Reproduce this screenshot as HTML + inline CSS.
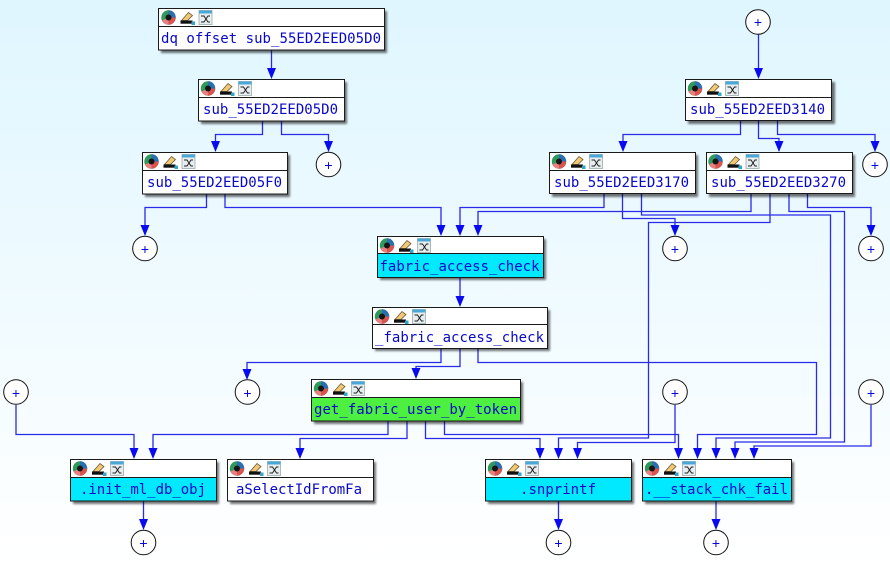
<!DOCTYPE html>
<html><head><meta charset="utf-8"><style>
html,body{margin:0;padding:0;width:890px;height:567px;overflow:hidden}
svg{display:block}
.t{font-family:"DejaVu Sans Mono","Liberation Mono",monospace;font-size:14px;fill:#0808c8}
.p{font-family:"Liberation Sans",sans-serif;font-size:14px;fill:#0000e0;text-anchor:middle}
</style></head><body>
<svg width="890" height="567" viewBox="0 0 890 567" xmlns="http://www.w3.org/2000/svg">
<defs>
<linearGradient id="bg" x1="0" y1="0" x2="0" y2="1"><stop offset="0" stop-color="#dff6ff"/><stop offset="1" stop-color="#ffffff"/></linearGradient>
<filter id="sh" x="-10%" y="-20%" width="125%" height="145%"><feGaussianBlur stdDeviation="1.1"/></filter>
<g id="ic">
<circle cx="9" cy="9" r="7.200" fill="#2f9a5c"/>
<path d="M9 9L9 1.800A7.200 7.200 0 0 1 16.200 9Z" fill="#2b6fb0"/>
<path d="M9 9L16.200 9A7.200 7.200 0 0 1 9 16.200Z" fill="#d9534f"/>
<path d="M9 9L9 16.200A7.200 7.200 0 0 1 2.500 12Z" fill="#e88080"/>
<circle cx="9" cy="9" r="3" fill="#151515"/>
<path d="M22 12L29 4L33 7L28 12Z" fill="#f0c878" stroke="#6a5a30" stroke-width=".8"/>
<rect x="21" y="12" width="12" height="3.200" fill="#111"/>
<rect x="32" y="13" width="3.500" height="3.500" fill="#35a5c5"/>
<rect x="39.500" y="2" width="13" height="14" fill="#e8eef0" stroke="#9aa" stroke-width=".8"/>
<rect x="39.500" y="2" width="13" height="3" fill="#4aa8d8"/>
<path d="M41.500 7.500h3l4 6h2M41.500 13.500h3l4-6h2" fill="none" stroke="#222" stroke-width="1"/>
</g>
<path id="a" d="M-4.500 -11L4.500 -11L0 0Z" fill="#0a0af0"/>
</defs>
<rect width="890" height="567" fill="url(#bg)"/>

<g fill="none" stroke="#2a2aea" stroke-width="1.300">
<path d="M271.500 50V72"/>
<path d="M262.500 121V134.500H215.500V145"/>
<path d="M281.500 121V134.500H328.500V145"/>
<path d="M758.500 34V72"/>
<path d="M740.500 120V134.500H623V145"/>
<path d="M758.500 120V138.500H779V145"/>
<path d="M777.500 120V134.500H875V145"/>
<path d="M206.500 194V207.500H145V229"/>
<path d="M225 194V207.500H441V229"/>
<path d="M604 193V207.500H460V229"/>
<path d="M751 193V211.500H478V229"/>
<path d="M622.500 193V218.500H675V229"/>
<path d="M641.500 193V215H830.500V438H716V452"/>
<path d="M770 193V222.500H648.500V438H558.500V452"/>
<path d="M789 193V211.500H844.500V442H735V452"/>
<path d="M807.500 193V207.500H871V229"/>
<path d="M460 277V300"/>
<path d="M441 348V362.500H247V372"/>
<path d="M460 348V366.500H416V372"/>
<path d="M478 348V362.500H816.500V434.500H697.500V452"/>
<path d="M388 421V434.500H153V452"/>
<path d="M407 421V438.500H300V452"/>
<path d="M425.500 421V438.500H540V452"/>
<path d="M444.500 421V434.500H678.500V452"/>
<path d="M16 405V434.500H134V452"/>
<path d="M675 405V442.500H577.500V452"/>
<path d="M871 405V446H754V452"/>
<path d="M143.500 501V523"/>
<path d="M558.500 501V523"/>
<path d="M716 501V523"/>
</g>

<g>
<use href="#a" x="271.500" y="79"/><use href="#a" x="215.500" y="152"/><use href="#a" x="328.500" y="152"/>
<use href="#a" x="758.500" y="79"/><use href="#a" x="623" y="152"/><use href="#a" x="779" y="152"/><use href="#a" x="875" y="152"/>
<use href="#a" x="145" y="236"/><use href="#a" x="441" y="236"/><use href="#a" x="460" y="236"/><use href="#a" x="478" y="236"/>
<use href="#a" x="675" y="236"/><use href="#a" x="871" y="236"/>
<use href="#a" x="460" y="307"/><use href="#a" x="247" y="380"/><use href="#a" x="416" y="379"/>
<use href="#a" x="134" y="459"/><use href="#a" x="153" y="459"/><use href="#a" x="300" y="459"/>
<use href="#a" x="540" y="459"/><use href="#a" x="558.500" y="459"/><use href="#a" x="577.500" y="459"/>
<use href="#a" x="678.500" y="459"/><use href="#a" x="697.500" y="459"/><use href="#a" x="716" y="459"/><use href="#a" x="735" y="459"/><use href="#a" x="754" y="459"/>
<use href="#a" x="143.500" y="530"/><use href="#a" x="558.500" y="530"/><use href="#a" x="716" y="530"/>
</g>

<g fill="#fff" stroke="#111" stroke-width="1">
<circle cx="758" cy="22" r="12.300"/><circle cx="875" cy="164.500" r="12.300"/><circle cx="328.500" cy="164.500" r="12.300"/>
<circle cx="145" cy="248.500" r="12.300"/><circle cx="675" cy="248.500" r="12.300"/><circle cx="871" cy="248.500" r="12.300"/>
<circle cx="247.500" cy="392" r="12.300"/><circle cx="16" cy="392" r="12.300"/><circle cx="675" cy="392" r="12.300"/><circle cx="871" cy="392" r="12.300"/>
<circle cx="143.500" cy="542.500" r="12.300"/><circle cx="558.500" cy="542.500" r="12.300"/><circle cx="716" cy="542.500" r="12.300"/>
</g>
<g class="pl">
<text class="p" x="758" y="27">+</text><text class="p" x="875" y="170">+</text><text class="p" x="328.500" y="170">+</text>
<text class="p" x="145" y="254">+</text><text class="p" x="675" y="254">+</text><text class="p" x="871" y="254">+</text>
<text class="p" x="247.500" y="398">+</text><text class="p" x="16" y="398">+</text><text class="p" x="675" y="398">+</text><text class="p" x="871" y="398">+</text>
<text class="p" x="143.500" y="548">+</text><text class="p" x="558.500" y="548">+</text><text class="p" x="716" y="548">+</text>
</g>

<!-- shadows -->
<g fill="#000" opacity=".55" filter="url(#sh)">
<rect x="161" y="11" width="226" height="42"/><rect x="201" y="82" width="146" height="42"/><rect x="145" y="155" width="145" height="42"/>
<rect x="688" y="82" width="147" height="42"/><rect x="552" y="155" width="146" height="42"/><rect x="709" y="155" width="146" height="42"/>
<rect x="380" y="239" width="166" height="41"/><rect x="375" y="310" width="175" height="41"/><rect x="314" y="382" width="209" height="42"/>
<rect x="73" y="462" width="146" height="42"/><rect x="230" y="462" width="146" height="42"/><rect x="488" y="462" width="146" height="42"/><rect x="645" y="462" width="149" height="42"/>
</g>

<!-- nodes -->
<g stroke="#1a1a1a" stroke-width="1">
<rect x="158.500" y="8.500" width="226" height="41.500" fill="#fff"/><path d="M158.500 26.500H384.500"/>
<rect x="198.500" y="79.500" width="146" height="41.500" fill="#fff"/><path d="M198.500 97.500H344.500"/>
<rect x="142.500" y="152.500" width="145" height="41.500" fill="#fff"/><path d="M142.500 170.500H287.500"/>
<rect x="685.500" y="79.500" width="146" height="41" fill="#fff"/><path d="M685.500 97.500H831.500"/>
<rect x="549.500" y="152.500" width="146" height="41" fill="#fff"/><path d="M549.500 170.500H695.500"/>
<rect x="706.500" y="152.500" width="146" height="41" fill="#fff"/><path d="M706.500 170.500H852.500"/>
<rect x="377.500" y="236.500" width="166" height="41" fill="#fff"/><rect x="377.500" y="253.500" width="166" height="24" fill="#00e9ff"/>
<rect x="372.500" y="307.500" width="175" height="41" fill="#fff"/><path d="M372.500 324.500H547.500"/>
<rect x="311.500" y="379.500" width="209" height="41.500" fill="#fff"/><rect x="311.500" y="397.500" width="209" height="23.500" fill="#4df040"/>
<rect x="70.500" y="459.500" width="146" height="41.500" fill="#fff"/><rect x="70.500" y="477.500" width="146" height="23.500" fill="#00e9ff"/>
<rect x="227.500" y="459.500" width="146" height="41.500" fill="#fff"/><path d="M227.500 477.500H373.500"/>
<rect x="485.500" y="459.500" width="146" height="41.500" fill="#fff"/><rect x="485.500" y="477.500" width="146" height="23.500" fill="#00e9ff"/>
<rect x="642.500" y="459.500" width="149" height="41.500" fill="#fff"/><rect x="642.500" y="477.500" width="149" height="23.500" fill="#00e9ff"/>
</g>

<use href="#ic" x="159.500" y="8.500"/><use href="#ic" x="199" y="79.500"/><use href="#ic" x="142.500" y="152.500"/>
<use href="#ic" x="686" y="79.500"/><use href="#ic" x="550" y="152.500"/><use href="#ic" x="706.500" y="152.500"/>
<use href="#ic" x="378" y="236.500"/><use href="#ic" x="373" y="307.500"/><use href="#ic" x="312" y="379.500"/>
<use href="#ic" x="71" y="459.500"/><use href="#ic" x="228" y="459.500"/><use href="#ic" x="486" y="459.500"/><use href="#ic" x="643" y="459.500"/>

<g class="tx">
<text class="t" x="161" y="43" textLength="220">dq offset sub_55ED2EED05D0</text>
<text class="t" x="203" y="114" textLength="135">sub_55ED2EED05D0</text>
<text class="t" x="147" y="187" textLength="135">sub_55ED2EED05F0</text>
<text class="t" x="690" y="114" textLength="135">sub_55ED2EED3140</text>
<text class="t" x="554" y="187" textLength="135">sub_55ED2EED3170</text>
<text class="t" x="711" y="187" textLength="135">sub_55ED2EED3270</text>
<text class="t" x="379.500" y="271" textLength="160">fabric_access_check</text>
<text class="t" x="375" y="342" textLength="169">_fabric_access_check</text>
<text class="t" x="314" y="414" textLength="203">get_fabric_user_by_token</text>
<text class="t" x="80" y="494" textLength="126">.init_ml_db_obj</text>
<text class="t" x="236" y="494" textLength="126">aSelectIdFromFa</text>
<text class="t" x="520" y="494" textLength="76">.snprintf</text>
<text class="t" x="645" y="494" textLength="143">.__stack_chk_fail</text>
</g>
</svg>
</body></html>
